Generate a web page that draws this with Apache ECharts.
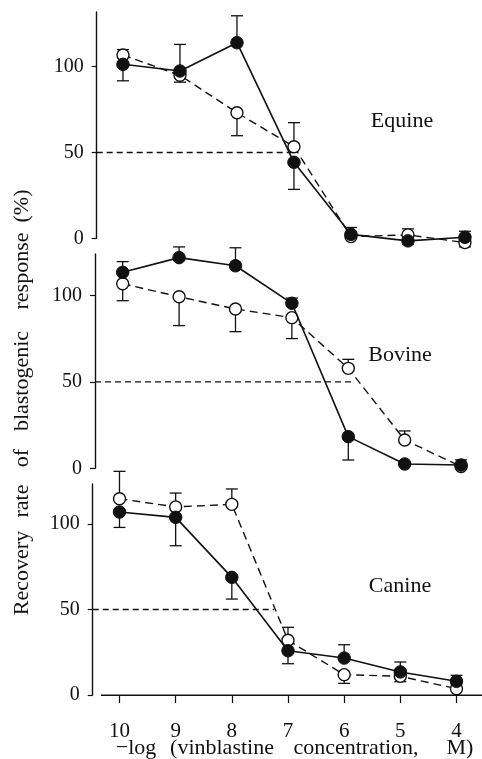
<!DOCTYPE html>
<html><head><meta charset="utf-8">
<script src="https://cdn.jsdelivr.net/npm/echarts@6/dist/echarts.min.js"></script>
<style>html,body{margin:0;padding:0;background:#fff}#c{width:482px;height:759px}</style>
</head><body><div id="c"></div>
<script>
const xs = [10, 9, 8, 7, 6, 5, 4];
const xTicks = [10, 9, 8, 7, 6, 5, 4];
const yTicks = [0, 50, 100];
const panelNames = ['Equine', 'Bovine', 'Canine'];

const equineFilled = [101.4, 97.5, 114, 44.3, 2.3, -1.5, 0.6];
const equineFilledErr = [-9.6, 15.5, 15.7, -15.8, 4, -2, 3.5];
const equineOpen = [106.8, 95, 73.2, 53.4, 1, 2, -2.5];
const equineOpenErr = [3.2, -4, -13.4, 14, 0, 3.5, -2.5];

const bovineFilled = [113.3, 121.8, 117.1, 95.4, 18.3, 2.5, 1.9];
const bovineFilledErr = [6.2, 6.2, 10.4, 3, -13.5, 0, 3];
const bovineOpen = [106.7, 99.2, 92.1, 87.1, 57.8, 16.4, 1];
const bovineOpenErr = [-9.8, -16.7, -13.1, -12.1, 5.2, 5.2, 0];

const canineFilled = [107, 103.9, 68.8, 25.9, 21.6, 13.5, 8];
const canineFilledErr = [-9, -16.6, -12.7, -7.6, 7.8, 5.8, 3.5];
const canineOpen = [114.8, 110, 111.5, 32, 11.9, 10.9, 3.7];
const canineOpenErr = [16, 8.1, 9, 7.6, -5.1, -3.1, 0];

const refLevel = 50;
const refEnd = [7.0, 5.9, 7.25];

const xTitleWords = ['\u2212log', '(vinblastine', 'concentration,', 'M)'];
const yTitleWords = ['Recovery', 'rate', 'of', 'blastogenic', 'response', '(%)'];

const panels = [
  {filled: equineFilled, fErr: equineFilledErr, open: equineOpen, oErr: equineOpenErr},
  {filled: bovineFilled, fErr: bovineFilledErr, open: bovineOpen, oErr: bovineOpenErr},
  {filled: canineFilled, fErr: canineFilledErr, open: canineOpen, oErr: canineOpenErr}
];

// layout (pixels)
const layout = [
  {left: 96.7, top: 12, height: 226.3, xmin: 3.701, xmax: 10.461, ymax: 131.9, label: [402, 121]},
  {left: 95, top: 254, height: 214.3, xmin: 3.629, xmax: 10.491, ymax: 123.9, label: [400, 355]},
  {left: 92.7, top: 484, height: 211, xmin: 3.546, xmax: 10.477, ymax: 123.4, label: [400, 586]}
];
const xTitlePos = [[136, 748], [222, 748], [356, 748], [460, 748]];
const yTitlePos = [[22, 573], [22, 501], [22, 458], [22, 381], [22, 271], [22, 206]];

const FONT = '"Liberation Serif", "DejaVu Serif", serif';

const chart = echarts.init(document.getElementById('c'), null, {renderer: 'canvas'});

function errItem(params, api) {
  const x = api.value(0), y = api.value(1), e = api.value(2);
  if (!e) return null;
  const p0 = api.coord([x, y]);
  const p1 = api.coord([x, y + e]);
  const st = {stroke: '#111', lineWidth: 1.3};
  return {type: 'group', children: [
    {type: 'line', shape: {x1: p0[0], y1: p0[1], x2: p1[0], y2: p1[1]}, style: st},
    {type: 'line', shape: {x1: p1[0] - 6, y1: p1[1], x2: p1[0] + 6, y2: p1[1]}, style: st}
  ]};
}

const grids = [], xAxes = [], yAxes = [], series = [], graphics = [];
layout.forEach((L, i) => {
  const isBottom = i === 2;
  grids.push({left: L.left, right: 0, top: L.top, height: L.height});
  xAxes.push({
    type: 'value', gridIndex: i, inverse: true, min: L.xmin, max: L.xmax,
    show: isBottom,
    axisLine: {show: false},
    axisTick: {show: isBottom, inside: false, length: 8, customValues: xTicks, lineStyle: {color: '#111', width: 1.2}},
    axisLabel: {show: isBottom, customValues: xTicks, margin: 26, color: '#111', fontFamily: FONT, fontSize: 21},
    splitLine: {show: false}
  });
  yAxes.push({
    type: 'value', gridIndex: i, min: 0, max: L.ymax,
    axisLine: {show: true, lineStyle: {color: '#111', width: 1.4}},
    axisTick: {show: true, inside: false, length: 5, customValues: yTicks, lineStyle: {color: '#111', width: 1.2}},
    axisLabel: {customValues: yTicks, margin: 13, color: '#111', fontFamily: FONT, fontSize: 20},
    splitLine: {show: false}
  });
  const P = panels[i];
  series.push({
    type: 'line', xAxisIndex: i, yAxisIndex: i, symbol: 'none', silent: true, clip: false,
    data: [[L.xmax, refLevel], [refEnd[i], refLevel]],
    lineStyle: {color: '#111', width: 1.3, type: [6, 4]}, z: 1
  });
  series.push({
    type: 'custom', xAxisIndex: i, yAxisIndex: i, clip: false, z: 2,
    renderItem: errItem,
    data: xs.map((x, k) => [x, P.open[k], P.oErr[k]])
  });
  series.push({
    type: 'custom', xAxisIndex: i, yAxisIndex: i, clip: false, z: 2,
    renderItem: errItem,
    data: xs.map((x, k) => [x, P.filled[k], P.fErr[k]])
  });
  series.push({
    type: 'line', xAxisIndex: i, yAxisIndex: i, clip: false, z: 3,
    data: xs.map((x, k) => [x, P.open[k]]),
    symbol: 'circle', symbolSize: 12,
    itemStyle: {color: '#fff', borderColor: '#111', borderWidth: 1.4},
    lineStyle: {color: '#111', width: 1.4, type: [8, 5]}
  });
  series.push({
    type: 'line', xAxisIndex: i, yAxisIndex: i, clip: false, z: 4,
    data: xs.map((x, k) => [x, P.filled[k]]),
    symbol: 'circle', symbolSize: 12.5,
    itemStyle: {color: '#111', borderColor: '#111', borderWidth: 1},
    lineStyle: {color: '#111', width: 1.6, type: 'solid'}
  });
  graphics.push({
    type: 'text', x: L.label[0], y: L.label[1],
    style: {text: panelNames[i], fill: '#111', font: '22px ' + FONT, align: 'center', verticalAlign: 'middle'}
  });
});

// bottom x-axis baseline (starts slightly right of the y axis, as in the original)
graphics.push({
  type: 'line', shape: {x1: 101, y1: 695.3, x2: 482, y2: 695.3},
  style: {stroke: '#111', lineWidth: 1.6}
});

yTitleWords.forEach((w, k) => {
  graphics.push({
    type: 'text', x: yTitlePos[k][0], y: yTitlePos[k][1], rotation: Math.PI / 2,
    style: {text: w, fill: '#111', font: '22px ' + FONT, align: 'center', verticalAlign: 'middle'}
  });
});
xTitleWords.forEach((w, k) => {
  graphics.push({
    type: 'text', x: xTitlePos[k][0], y: xTitlePos[k][1],
    style: {text: w, fill: '#111', font: '22px ' + FONT, align: 'center', verticalAlign: 'middle'}
  });
});

chart.setOption({
  animation: false,
  backgroundColor: '#fff',
  grid: grids, xAxis: xAxes, yAxis: yAxes, series: series, graphic: graphics
});
</script></body></html>
